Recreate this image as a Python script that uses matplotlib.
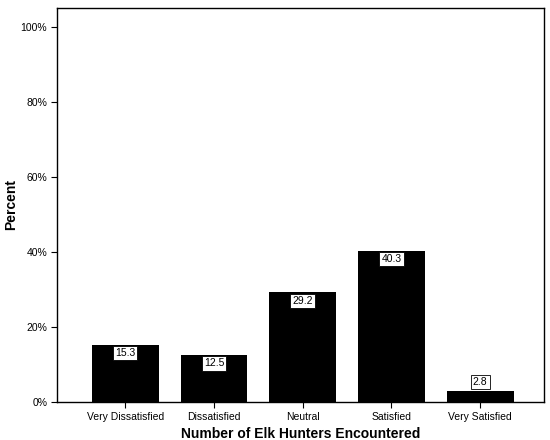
import matplotlib
matplotlib.use('Agg')
import matplotlib.pyplot as plt
from matplotlib.ticker import FuncFormatter

plt.rcParams['font.family'] = ['Liberation Sans', 'DejaVu Sans']

categories = ['Very Dissatisfied', 'Dissatisfied', 'Neutral', 'Satisfied', 'Very Satisfied']
percent = [15.3, 12.5, 29.2, 40.3, 2.8]

fig = plt.figure(figsize=(5.5, 4.4), dpi=100)
ax = fig.add_axes([0.1036, 0.0864, 0.8855, 0.8955])

x = list(range(len(categories)))
ax.bar(x, percent, width=0.755, color='black')

for xi, v in zip(x, percent):
    if v > 5:
        ax.text(xi, v - 0.9, f'{v:.1f}', ha='center', va='top', fontsize=7.5,
                bbox=dict(boxstyle='square,pad=0.2', fc='white', ec='black', lw=0.6))
    else:
        ax.text(xi, v + 1.2, f'{v:.1f}', ha='center', va='bottom', fontsize=7.5,
                bbox=dict(boxstyle='square,pad=0.2', fc='white', ec='black', lw=0.6))

ax.set_xlim(-0.77, 4.72)
ax.set_ylim(0, 105)
ax.set_yticks([0, 20, 40, 60, 80, 100])
ax.yaxis.set_major_formatter(FuncFormatter(lambda v, p: f'{v:.0f}%'))
ax.set_xticks(x)
ax.set_xticklabels(categories)
ax.tick_params(labelsize=7.5, length=4, width=0.8, colors='black', pad=3)

for s in ax.spines.values():
    s.set_linewidth(1.0)

ax.set_xlabel('Number of Elk Hunters Encountered', fontsize=10, fontweight='bold', va='center')
ax.xaxis.set_label_coords(0.5, -0.08)
ax.set_ylabel('Percent', fontsize=10, fontweight='bold', va='center')
ax.yaxis.set_label_coords(-0.095, 0.5)

plt.savefig('out.png', dpi=100)
